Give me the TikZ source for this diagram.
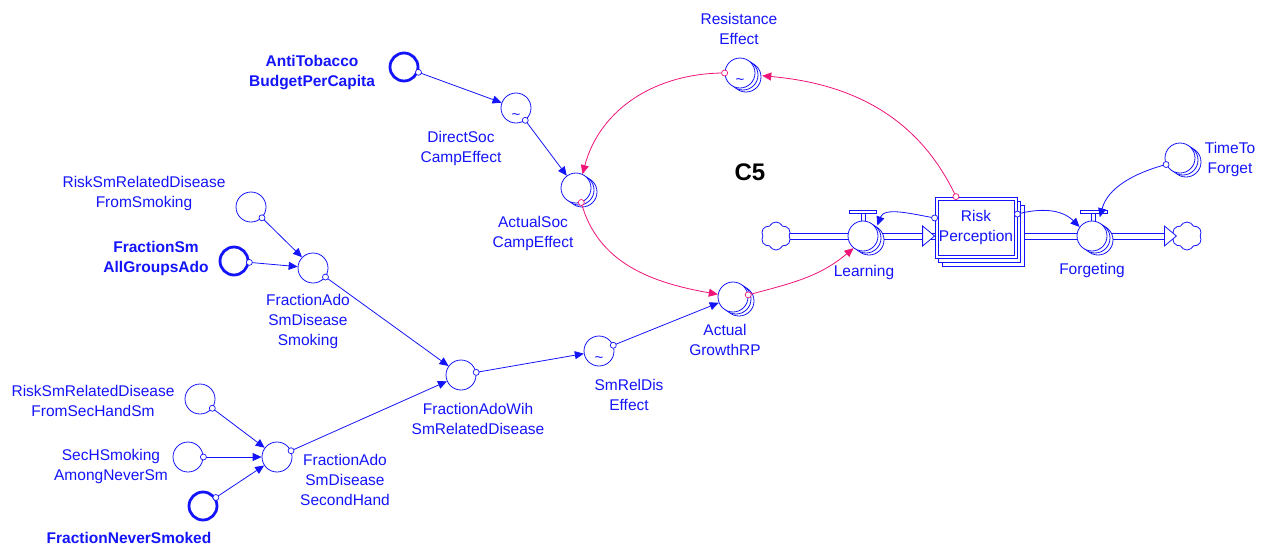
\documentclass[tikz,border=0pt]{standalone}
\usepackage{fontspec}
\setmainfont{Liberation Sans}
\usetikzlibrary{arrows.meta,shapes.symbols,shadows,calc,backgrounds}
\definecolor{vblue}{RGB}{20,20,250}
\definecolor{vpink}{RGB}{240,20,120}
\begin{document}
\begin{tikzpicture}[x=1pt,y=-1pt,
  lbl/.style={text=vblue, align=center, font=\fontsize{15.5}{20}\selectfont, inner sep=0pt},
  lblb/.style={lbl, font=\fontsize{15.5}{20}\selectfont\bfseries},
  conv/.style={circle, draw=vblue, line width=0.8pt, minimum size=30pt, inner sep=0pt, fill=white},
  convs/.style={conv, double copy shadow={shadow xshift=3pt, shadow yshift=-2pt, draw=vblue, fill=white, line width=0.8pt}},
  convb/.style={conv, line width=2.8pt, minimum size=28pt},
  lk/.style={draw=vblue, line width=0.8pt, -{Triangle[length=9pt,width=8pt]}},
  pk/.style={draw=vpink, line width=0.8pt, -{Triangle[length=9pt,width=8pt]}},
  ob/.style={circle, draw=vblue, fill=white, line width=0.7pt, minimum size=6pt, inner sep=0pt},
  op/.style={ob, draw=vpink},
  tl/.style={text=vblue, font=\fontsize{15}{15}\selectfont, inner sep=0pt},
  pipeline/.style={draw=vblue, line width=0.8pt},
  cl/.style={cloud, cloud puffs=6, cloud puff arc=130, aspect=1, draw=vblue, line width=0.8pt, fill=white, minimum width=30pt, minimum height=28pt, inner sep=0pt},
  vpart/.style={draw=vblue, line width=0.7pt, fill=white, inner sep=0pt},
]
\useasboundingbox (0,0) rectangle (1263,547);

% ---- valve bars
\node[vpart, minimum width=4pt, minimum height=8pt] (lstem) at (863,217) {};
\node[vpart, minimum width=27pt, minimum height=3pt] (lbar) at (863,212) {};
\node[vpart, minimum width=4pt, minimum height=8pt] (fstem) at (1093,217) {};
\node[vpart, minimum width=27pt, minimum height=3pt] (fbar) at (1094,212) {};

% ---- stock
\node[draw=vblue, line width=0.8pt, fill=white, minimum width=82pt, minimum height=61pt, inner sep=0pt,
  double copy shadow={shadow xshift=3.5pt, shadow yshift=-4pt, draw=vblue, fill=white, line width=0.8pt},
  text=vblue, align=center, font=\fontsize{15.5}{20}\selectfont] (rp) at (976,227.5) {Risk\\Perception};
\draw[vblue, line width=0.8pt] ([shift={(3.5,3.5)}]rp.north west) rectangle ([shift={(-3.5,-3.5)}]rp.south east);

% ---- clouds
\node[cl] (src) at (776,236) {};
\node[cl] (sink) at (1187,236) {};

% ---- converters
\node[convb] (anti) at (404,67) {};
\node[conv] (dsoc) at (516,108) {};
\node[convs] (asoc) at (576,188) {};
\node[convs] (res) at (740,73) {};
\node[convs] (agr) at (733,297) {};
\node[conv] (smr) at (599,351) {};
\node[conv] (fwih) at (461,375) {};
\node[conv] (fsmk) at (313,268) {};
\node[conv] (riskSm) at (251,207) {};
\node[convb] (fsmall) at (234,261) {};
\node[conv] (rsh) at (200,399) {};
\node[conv] (sech) at (188,457) {};
\node[convb] (fnev) at (203,506) {};
\node[conv] (fsh) at (277,457) {};
\node[convs] (learn) at (863,236) {};
\node[convs] (forg) at (1092,236) {};
\node[convs] (ttf) at (1180,158) {};

% ---- pipes (two parallel lines each)
\begin{scope}[on background layer]
\draw[pipeline] ([yshift=3pt]src.center) -- ([yshift=3pt]rp.west |- learn.center);
\draw[pipeline] ([yshift=-3pt]src.center) -- ([yshift=-3pt]rp.west |- learn.center);
\draw[pipeline] ([yshift=3pt]rp.center |- forg.center) -- ([yshift=3pt]sink.center);
\draw[pipeline] ([yshift=-3pt]rp.center |- forg.center) -- ([yshift=-3pt]sink.center);
\end{scope}
\draw[vblue, line width=0.8pt, fill=white] (rp.west |- learn.center) -- ++(-12,-10) -- ++(0,20) -- cycle;
\draw[vblue, line width=0.8pt, fill=white] ([xshift=3pt]sink.west) -- ++(-12,-10) -- ++(0,20) -- cycle;

% ---- tildes
\node[tl] (dsoct) at ([yshift=-9pt]dsoc.center) {\textasciitilde};
\node[tl] (rest) at ([yshift=-9pt]res.center) {\textasciitilde};
\node[tl] (smrt) at ([yshift=-9pt]smr.center) {\textasciitilde};

% ---- straight links
\draw[lk] (anti) -- node[ob,pos=0] (o1) {} (dsoc);
\draw[lk] (dsoc) -- node[ob,pos=0] (o2) {} (asoc);
\draw[lk] (riskSm) -- node[ob,pos=0] (o3) {} (fsmk);
\draw[lk] (fsmall) -- node[ob,pos=0] (o4) {} (fsmk);
\draw[lk] (fsmk) -- node[ob,pos=0] (o5) {} (fwih);
\draw[lk] (fsh) -- node[ob,pos=0] (o6) {} (fwih);
\draw[lk] (fwih) -- node[ob,pos=0] (o7) {} (smr);
\draw[lk] (smr) -- node[ob,pos=0] (o8) {} (agr);
\draw[lk] (rsh) -- node[ob,pos=0] (o9) {} (fsh);
\draw[lk] (sech) -- node[ob,pos=0] (o10) {} (fsh);
\draw[lk] (fnev) -- node[ob,pos=0] (o11) {} (fsh);

% ---- curved links
\draw[pk] (res.180) to[out=180,in=75] node[op,pos=0] (o12) {} (asoc.65);
\draw[pk] (asoc.-70) to[out=-75,in=170] node[op,pos=0] (o13) {} (agr.170);
\draw[pk] (agr.8) to[out=15,in=-140] node[op,pos=0] (o14) {} (learn.-128);
\draw[pk, shorten >=7pt] (rp.123) to[out=115,in=-5] node[op,pos=0] (o15) {} (res.-8);
\draw[lk, shorten >=3pt] (rp.167) to[out=170,in=70] node[ob,pos=0] (o16) {} (learn.30);
\draw[lk] (rp.18) to[out=15,in=135] node[ob,pos=0] (o17) {} (forg.144);
\draw[lk, shorten >=5pt] (ttf.-155) to[out=195,in=75] node[ob,pos=0] (o18) {} (forg.65);

% ---- labels
\node[lblb] (antiL) at (312,73) {AntiTobacco\\BudgetPerCapita};
\node[lbl] (dsocL) at (461,148.5) {DirectSoc\\CampEffect};
\node[lbl] (asocL) at (533,233) {ActualSoc\\CampEffect};
\node[lbl] (resL) at (739,28.5) {Resistance\\Effect};
\node[lbl] (agrL) at (725,340) {Actual\\GrowthRP};
\node[lbl] (smrL) at (629,394.5) {SmRelDis\\Effect};
\node[lbl] (fwihL) at (478,419) {FractionAdoWih\\SmRelatedDisease};
\node[lbl] (fsmkL) at (308,321.5) {FractionAdo\\SmDisease\\Smoking};
\node[lbl] (fshL) at (345,480) {FractionAdo\\SmDisease\\SecondHand};
\node[lbl] (riskSmL) at (144,193) {RiskSmRelatedDisease\\FromSmoking};
\node[lblb] (fsmallL) at (156,258.5) {FractionSm\\AllGroupsAdo};
\node[lbl] (rshL) at (93,401) {RiskSmRelatedDisease\\FromSecHandSm};
\node[lbl] (sechL) at (111,466) {SecHSmoking\\AmongNeverSm};
\node[lblb] (fnevL) at (129,538) {FractionNeverSmoked};
\node[lbl] (learnL) at (864,272) {Learning};
\node[lbl] (forgL) at (1092,270) {Forgeting};
\node[lbl] (ttfL) at (1230,159) {TimeTo\\Forget};
\node[inner sep=0pt, font=\fontsize{24}{24}\selectfont\bfseries] (c5) at (750,172) {C5};
\end{tikzpicture}
\end{document}
